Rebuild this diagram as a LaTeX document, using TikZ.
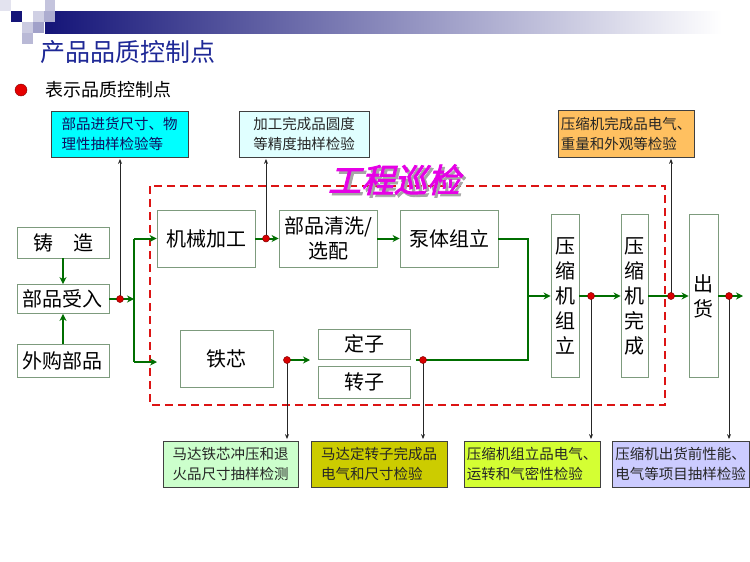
\documentclass[tikz,border=0pt]{standalone}
\usepackage{fontspec}
\setmainfont{Noto Sans CJK SC}
\newfontfamily\slantcjk[FakeSlant=0.25,FakeBold=2.5]{Noto Sans CJK SC}
\usetikzlibrary{arrows.meta}

\definecolor{navybar}{RGB}{20,20,120}
\definecolor{titleblue}{RGB}{30,40,150}
\definecolor{flowgreen}{RGB}{0,110,0}
\definecolor{boxgreen}{RGB}{125,155,125}
\definecolor{dashred}{RGB}{220,20,20}
\definecolor{chkcyan}{RGB}{0,255,255}
\definecolor{chklcyan}{RGB}{224,255,255}
\definecolor{chkorange}{RGB}{255,192,96}
\definecolor{chkmint}{RGB}{204,255,204}
\definecolor{chkolive}{RGB}{204,204,0}
\definecolor{chklime}{RGB}{212,255,51}
\definecolor{chklav}{RGB}{204,204,255}
\definecolor{xjmagenta}{RGB}{230,0,230}

\newcommand\bigtxt{\fontsize{20}{25}\selectfont}
\newcommand\smalltxt{\fontsize{14.5}{20}\selectfont}
\newcommand\shadowed[1]{\makebox[0pt][l]{\hspace{2.5pt}\raisebox{-2.5pt}{\textcolor{black!35}{#1}}}\textcolor{xjmagenta}{#1}}

\begin{document}
\begin{tikzpicture}[x=1pt, y=-1pt,
  procbox/.style={draw=boxgreen, line width=0.9pt, fill=white, inner sep=0pt, font=\bigtxt, align=center},
  chkbox/.style={draw=black!75, line width=0.8pt, inner sep=0pt, font=\smalltxt, align=left, text=black!85, minimum height=46pt},
  qdot/.style={circle, fill=red!85!black, draw=red!50!black, line width=0.5pt, inner sep=0pt, minimum size=7pt},
  flow/.style={draw=flowgreen, line width=2pt},
  flowto/.style={flow, -{Stealth[length=7pt,width=7pt]}},
  probe/.style={draw=black!85, line width=0.8pt, shorten >=1.5pt, -{Stealth[length=5pt,width=4pt]}}]
\useasboundingbox (0,0) rectangle (750,562);

% header
\shade[left color=navybar, right color=white] (45,11) rectangle (722,33);
\fill[navybar] (11,11) rectangle (22,22);
\fill[navybar!12] (0,0) rectangle (11,11);
\fill[navybar!25] (45,0) rectangle (55,11);
\fill[navybar!20] (33,11) rectangle (44,22);
\fill[navybar!35] (44,11) rectangle (55,22);
\fill[navybar!22] (22,22) rectangle (33,33);
\fill[navybar!40] (33,22) rectangle (44,33);
\fill[navybar!30] (22,33) rectangle (33,44);
\node[anchor=west, inner sep=0pt, text=titleblue, font=\fontsize{25}{28}\selectfont] (title) at (40,52) {产品品质控制点};
\node[circle, fill=red!90!black, draw=red!50!black, inner sep=0pt, minimum size=12pt] (legdot) at (21,90) {};
\node[anchor=west, inner sep=0pt, font=\fontsize{18}{22}\selectfont] (legtxt) at (45,90) {表示品质控制点};

% patrol area
\draw[dashred, line width=2pt, dash pattern=on 8pt off 5pt] (150,186) rectangle (665,405);
\node[inner sep=0pt, font=\slantcjk\fontsize{33}{36}\selectfont] (xunjian) at (394,181) {\shadowed{工程巡检}};

% process boxes
\node[procbox, minimum width=92pt, minimum height=31pt] (zhuzao) at (63,242.5) {铸\hspace{1em}造};
\node[procbox, minimum width=92pt, minimum height=29pt] (shouru) at (63,299) {部品受入};
\node[procbox, minimum width=92pt, minimum height=33pt] (waigou) at (63,360.5) {外购部品};
\node[procbox, minimum width=98pt, minimum height=57pt] (jixie) at (206,238.5) {机械加工};
\node[procbox, minimum width=98pt, minimum height=57pt] (qingxi) at (328,238.5) {部品清洗/\\选配};
\node[procbox, minimum width=98pt, minimum height=57pt] (bengti) at (449,238.5) {泵体组立};
\node[procbox, minimum width=93pt, minimum height=57pt] (tiexin) at (226.5,358.5) {铁芯};
\node[procbox, minimum width=92pt, minimum height=30pt] (dingzi) at (364,344) {定子};
\node[procbox, minimum width=92pt, minimum height=32pt] (zhuanzi) at (364,382) {转子};
\node[procbox, minimum width=28pt, minimum height=163pt] (zuli) at (565,296) {压\\缩\\机\\组\\立};
\node[procbox, minimum width=27pt, minimum height=163pt] (wancheng) at (634.5,296) {压\\缩\\机\\完\\成};
\node[procbox, minimum width=29pt, minimum height=163pt] (chuhuo) at (703.5,296) {出\\货};

% check boxes
\node[chkbox, fill=chkcyan, text=navybar!80!black, minimum width=137pt] (chk1) at (119.5,134) {部品进货尺寸、物\\理性抽样检验等};
\node[chkbox, fill=chklcyan, align=center, minimum width=130pt] (chk2) at (304,134) {加工完成品圆度\\等精度抽样检验};
\node[chkbox, fill=chkorange, minimum width=136pt, minimum height=47pt] (chk3) at (626,133.5) {压缩机完成品电气、\\重量和外观等检验};
\node[chkbox, fill=chkmint, minimum width=135pt] (chk4) at (230.5,464) {马达铁芯冲压和退\\火品尺寸抽样检测};
\node[chkbox, fill=chkolive, minimum width=136pt] (chk5) at (379,464) {马达定转子完成品\\电气和尺寸检验};
\node[chkbox, fill=chklime, minimum width=136pt] (chk6) at (532,464) {压缩机组立品电气、\\运转和气密性检验};
\node[chkbox, fill=chklav, minimum width=137pt] (chk7) at (680.5,464) {压缩机出货前性能、\\电气等项目抽样检验};

% points on the flow
\coordinate (p1) at (120,299);
\coordinate (p2) at (266,238.5);
\coordinate (p3) at (287,360);
\coordinate (p4) at (423,360);
\coordinate (p5) at (591,296);
\coordinate (p6) at (671,296);
\coordinate (p7) at (729,296);
\coordinate (split) at (134,299);
\coordinate (tin) at (157,362);
\coordinate (merge) at (528,296);
\coordinate (szin) at (310,360);
\coordinate (szout) at (416,360);
\coordinate (out) at (743,296);

% flow lines
\draw[flowto] (zhuzao) -- (shouru);
\draw[flowto] (waigou) -- (shouru);
\draw[flowto] (shouru.east) -- (split);
\draw[flow] (split |- jixie.west) -- (split |- tin);
\draw[flowto] (split |- jixie.west) -- (jixie.west);
\draw[flowto] (split |- tin) -- (tin);
\draw[flowto] (jixie.east) -- (qingxi.west);
\draw[flowto] (qingxi.east) -- (bengti.west);
\draw[flow] (bengti.east) -- (merge |- bengti.east) -- (merge);
\draw[flow] (szout) -- (merge |- szout) -- (merge);
\draw[flowto] (merge) -- (zuli.west |- merge);
\draw[flowto] (p3) -- (szin);
\draw[flowto] (zuli.east |- p5) -- (wancheng.west |- p5);
\draw[flowto] (wancheng.east |- p6) -- (chuhuo.west |- p6);
\draw[flowto] (chuhuo.east |- p7) -- (out);

% probes to the checks
\draw[probe] (p1) -- (p1 |- chk1.south);
\draw[probe] (p2) -- (p2 |- chk2.south);
\draw[probe] (p6) -- (p6 |- chk3.south);
\draw[probe] (p3) -- (p3 |- chk4.north);
\draw[probe] (p4) -- (p4 |- chk5.north);
\draw[probe] (p5) -- (p5 |- chk6.north);
\draw[probe] (p7) -- (p7 |- chk7.north);

\node[qdot] (d1) at (p1) {};
\node[qdot] (d2) at (p2) {};
\node[qdot] (d3) at (p3) {};
\node[qdot] (d4) at (p4) {};
\node[qdot] (d5) at (p5) {};
\node[qdot] (d6) at (p6) {};
\node[qdot] (d7) at (p7) {};
\end{tikzpicture}
\end{document}
